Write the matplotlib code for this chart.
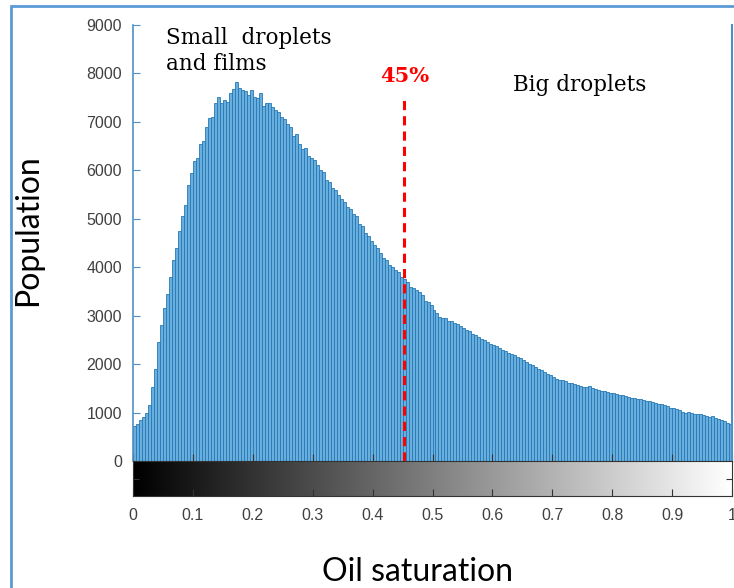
import matplotlib.pyplot as plt
import numpy as np
from matplotlib.patches import Rectangle

# histogram of oil saturation, 200 bins of width 0.005
bin_width = 0.005
counts = [
    720, 760, 850, 900, 1000, 1150, 1530, 1900, 2450, 2800,
    3150, 3450, 3800, 4150, 4400, 4750, 5050, 5280, 5700, 5950,
    6200, 6250, 6550, 6600, 6900, 7080, 7100, 7400, 7520, 7400,
    7450, 7420, 7600, 7680, 7820, 7700, 7660, 7640, 7550, 7660,
    7520, 7500, 7600, 7320, 7400, 7380, 7300, 7250, 7200, 7100,
    7050, 6950, 6900, 6700, 6750, 6550, 6450, 6460, 6300, 6250,
    6210, 6100, 6000, 5960, 5800, 5750, 5630, 5600, 5500, 5400,
    5350, 5250, 5200, 5100, 5050, 4900, 4850, 4700, 4650, 4550,
    4460, 4400, 4300, 4200, 4150, 4050, 4000, 3950, 3900, 3800,
    3760, 3700, 3600, 3580, 3530, 3490, 3430, 3300, 3280, 3220,
    3120, 3050, 2970, 2950, 2960, 2900, 2880, 2850, 2820, 2780,
    2750, 2700, 2680, 2620, 2600, 2550, 2520, 2500, 2460, 2420,
    2400, 2370, 2330, 2300, 2280, 2230, 2200, 2180, 2150, 2120,
    2080, 2050, 2000, 1980, 1940, 1900, 1870, 1840, 1800, 1770,
    1740, 1700, 1680, 1670, 1650, 1620, 1600, 1580, 1560, 1550,
    1530, 1520, 1540, 1500, 1480, 1470, 1450, 1440, 1420, 1410,
    1400, 1380, 1370, 1360, 1350, 1330, 1310, 1300, 1290, 1270,
    1250, 1240, 1230, 1220, 1200, 1180, 1170, 1150, 1130, 1100,
    1090, 1080, 1050, 1020, 1000, 1010, 990, 970, 960, 960,
    950, 930, 900, 920, 880, 860, 850, 820, 790, 760,
]
bin_left = np.arange(len(counts)) * bin_width

threshold = 0.453
yticks = list(range(0, 9001, 1000))
xticks = [0, 0.1, 0.2, 0.3, 0.4, 0.5, 0.6, 0.7, 0.8, 0.9, 1]
xtick_labels = ["0", "0.1", "0.2", "0.3", "0.4", "0.5", "0.6", "0.7", "0.8", "0.9", "1"]

spine_blue = "#4f8fc7"
tick_col = "#404040"

fig = plt.figure(figsize=(7.34, 5.88), dpi=100)

# light blue frame round the whole picture
fig.patches.append(Rectangle((11 / 734, -0.05), 1.2, 1.05 - 6 / 588, transform=fig.transFigure,
                             fill=False, edgecolor="#5b9bd5", linewidth=2))

ax = fig.add_axes([133 / 734, 127 / 588, 599 / 734, 436 / 588])
ax.bar(bin_left, counts, width=bin_width, align="edge", color="#6aaedb",
       edgecolor="#2478b8", linewidth=0.6)
ax.set_xlim(0, 1)
ax.set_ylim(0, 9000)
ax.set_yticks(yticks)
ax.set_xticks(xticks)
ax.tick_params(axis="x", direction="in", length=5, labelbottom=False, color="#333333")
ax.tick_params(axis="y", direction="in", length=5, labelsize=11.5, labelcolor=tick_col,
               color=spine_blue, pad=8)
for lab in ax.get_yticklabels():
    lab.set_fontfamily("Liberation Sans")
ax.spines["top"].set_visible(False)
ax.spines["bottom"].set_visible(False)
ax.spines["left"].set_color(spine_blue)
ax.spines["right"].set_color(spine_blue)
ax.spines["left"].set_linewidth(1.2)
ax.spines["right"].set_linewidth(1.5)

ax.vlines(threshold, 0, 7450, colors="red", linestyles=(0, (3, 2)), linewidth=2.2)
ax.text(threshold, 7950, "45%", color="red", fontsize=15, fontweight="bold",
        family="DejaVu Serif", ha="center", va="center")
ax.text(0.055, 8950, "Small  droplets\nand films", fontsize=15.5, family="DejaVu Serif",
        ha="left", va="top", linespacing=1.2)
ax.text(0.635, 7760, "Big droplets", fontsize=15.5, family="DejaVu Serif",
        ha="left", va="center")

ax.set_ylabel("Population", fontsize=23, family="Lato")
ax.yaxis.set_label_coords(-0.150, 0.53)

# grayscale colour bar under the histogram
cax = fig.add_axes([133 / 734, 92 / 588, 599 / 734, 35 / 588])
grad = np.linspace(0, 1, 256).reshape(1, -1)
cax.imshow(grad, cmap="gray", aspect="auto", extent=[0, 1, 0, 1])
cax.set_xlim(0, 1)
cax.set_ylim(0, 1)
cax.set_xticks(xticks)
cax.set_xticklabels(xtick_labels, family="Liberation Sans")
cax.set_yticks([0.5])
cax.set_yticklabels([])
cax.tick_params(axis="x", direction="in", length=5, labelsize=11.5, labelcolor=tick_col,
                color="#333333", pad=9)
cax.tick_params(axis="y", direction="in", length=4, left=True, right=True, color="#333333")
for s in cax.spines.values():
    s.set_color("#333333")
cax.set_xlabel("Oil saturation", fontsize=23, family="Lato")
cax.xaxis.set_label_coords(0.475, -1.75)

fig.savefig("out.png", dpi=100)
